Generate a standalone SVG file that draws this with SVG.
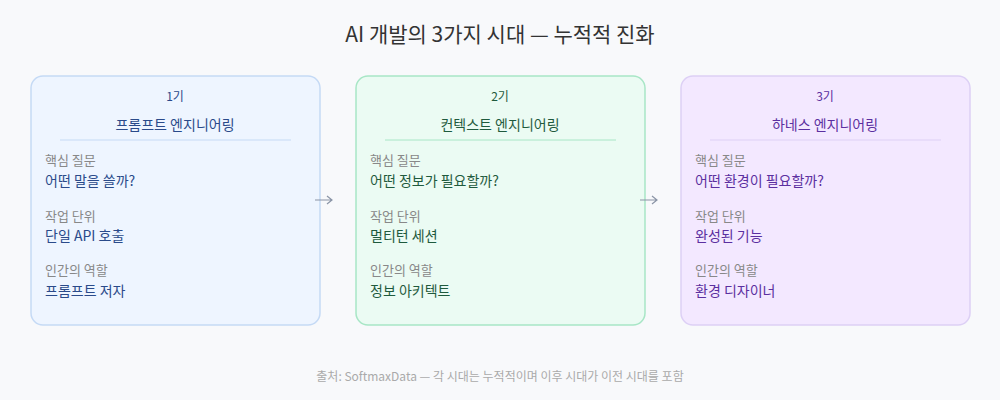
<svg xmlns="http://www.w3.org/2000/svg" width="1000" height="400" viewBox="0 0 1000 400">
<defs>
<style>
text{font-family:"Noto Sans CJK KR","Noto Sans",sans-serif}
.title{font-size:21px;fill:#333;text-anchor:middle}
.foot{font-size:12px;fill:#aaa;text-anchor:middle}
.era{font-size:12px;text-anchor:middle}
.name{font-size:14px;text-anchor:middle}
.lab{font-size:13px;fill:#888}
.val{font-size:14px}
.arrow{stroke:#8a94a6;stroke-width:1.2;fill:none}
</style>
</defs>
<rect width="1000" height="400" fill="#f8f9fb"/>
<text class="title" x="500" y="42">AI 개발의 3가지 시대 — 누적적 진화</text>

<g id="era1">
<rect x="31" y="76" width="289" height="249" rx="12" fill="#eef5ff" stroke="#c5daf5" stroke-width="1.5"/>
<text class="era" x="175" y="101" fill="#2a4a8a">1기</text>
<text class="name" x="175" y="130" fill="#2a4a8a">프롬프트 엔지니어링</text>
<line x1="60" y1="140" x2="291" y2="140" stroke="#c5daf5"/>
<text class="lab" x="45" y="165">핵심 질문</text>
<text class="val" x="45" y="186" fill="#2a4a8a">어떤 말을 쓸까?</text>
<text class="lab" x="45" y="221">작업 단위</text>
<text class="val" x="45" y="241" fill="#2a4a8a">단일 API 호출</text>
<text class="lab" x="45" y="275">인간의 역할</text>
<text class="val" x="45" y="296" fill="#2a4a8a">프롬프트 저자</text>
</g>

<g id="era2">
<rect x="356" y="76" width="289" height="249" rx="12" fill="#ebfbf3" stroke="#a8e6c6" stroke-width="1.5"/>
<text class="era" x="500" y="101" fill="#1f5a3d">2기</text>
<text class="name" x="500" y="130" fill="#1f5a3d">컨텍스트 엔지니어링</text>
<line x1="385" y1="140" x2="616" y2="140" stroke="#a8e6c6"/>
<text class="lab" x="370" y="165">핵심 질문</text>
<text class="val" x="370" y="186" fill="#1f5a3d">어떤 정보가 필요할까?</text>
<text class="lab" x="370" y="221">작업 단위</text>
<text class="val" x="370" y="241" fill="#1f5a3d">멀티턴 세션</text>
<text class="lab" x="370" y="275">인간의 역할</text>
<text class="val" x="370" y="296" fill="#1f5a3d">정보 아키텍트</text>
</g>

<g id="era3">
<rect x="681" y="76" width="289" height="249" rx="12" fill="#f3e8ff" stroke="#ddd0f5" stroke-width="1.5"/>
<text class="era" x="825" y="101" fill="#5b2fa0">3기</text>
<text class="name" x="825" y="130" fill="#5b2fa0">하네스 엔지니어링</text>
<line x1="710" y1="140" x2="941" y2="140" stroke="#ddd0f5"/>
<text class="lab" x="695" y="165">핵심 질문</text>
<text class="val" x="695" y="186" fill="#5b2fa0">어떤 환경이 필요할까?</text>
<text class="lab" x="695" y="221">작업 단위</text>
<text class="val" x="695" y="241" fill="#5b2fa0">완성된 기능</text>
<text class="lab" x="695" y="275">인간의 역할</text>
<text class="val" x="695" y="296" fill="#5b2fa0">환경 디자이너</text>
</g>

<g id="connectors">
<path class="arrow" d="M315 200 H332 M327 196 L332 200 L327 204"/>
<path class="arrow" d="M640 200 H657 M652 196 L657 200 L652 204"/>
</g>

<text class="foot" x="500" y="381">출처: SoftmaxData — 각 시대는 누적적이며 이후 시대가 이전 시대를 포함</text>
</svg>
